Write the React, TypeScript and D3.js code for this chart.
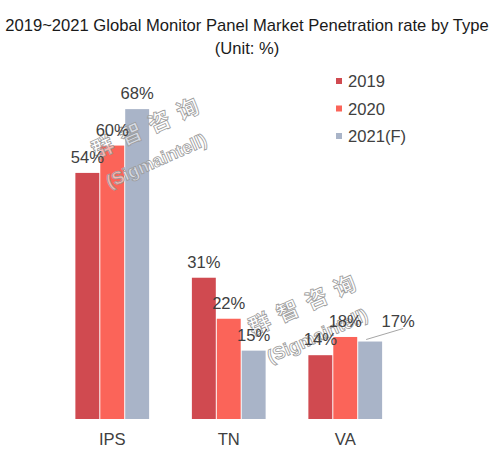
import React from "react";
import * as d3 from "d3";

const categories = ["IPS", "TN", "VA"];
const seriesNames = ["2019", "2020", "2021(F)"];
const values2019 = [54, 31, 14];
const values2020 = [60, 22, 18];
const values2021 = [68, 15, 17];
const colors = ["#d04a50", "#fb6459", "#a9b4c8"];
const titleLines = ["2019~2021 Global Monitor Panel Market Penetration rate by Type", "(Unit: %)"];

const W = 492;
const H = 458;
const FONT = "'Liberation Sans', Arial, sans-serif";
const FS = 16.6;

export default function App() {
  const series = [values2019, values2020, values2021];
  const x0 = d3.scaleBand().domain(categories).range([54, 403.5]).paddingInner(0.35).paddingOuter(0.175);
  const x1 = d3.scaleBand().domain(seriesNames).range([0, x0.bandwidth()]).padding(0.04);
  const y = d3.scaleLinear().domain([0, 70]).range([419, 100]);

  return (
    <svg width={W} height={H} style={{ position: "absolute", left: 0, top: 0, background: "#fff" }} fontFamily={FONT}>
      <rect width={W} height={H} fill="#fff" />
      <text x={247} y={31} textAnchor="middle" fontSize={FS} fill="#1a1a1a">{titleLines[0]}</text>
      <text x={247} y={54} textAnchor="middle" fontSize={FS} fill="#1a1a1a">{titleLines[1]}</text>

      {categories.map((c, ci) => (
        <g key={c}>
          {seriesNames.map((s, si) => {
            const v = series[si][ci];
            const bx = (x0(c) as number) + (x1(s) as number);
            const bw = x1.bandwidth();
            return (
              <rect key={s} x={bx} y={y(v)} width={bw} height={y(0) - y(v)} fill={colors[si]} />
            );
          })}
          <text x={(x0(c) as number) + x0.bandwidth() / 2} y={445} textAnchor="middle" fontSize={FS} fill="#404040">{c}</text>
        </g>
      ))}

      {[
        [150, 128, 157, 162],
        [307, 305, 318, 337],
      ].map(([ax, ay, bx, by], i) => (
        <g key={"wm" + i} fill="#ffffff" fillOpacity={0.55} stroke="#9a9a9a" strokeWidth={0.8} fontWeight="bold">
          <text x={ax} y={ay} transform={`rotate(-24 ${ax} ${ay})`} textAnchor="middle" dominantBaseline="middle" fontSize={22} fontFamily="'Noto Sans CJK SC', sans-serif" letterSpacing={9}>群智咨询</text>
          <text x={bx} y={by} transform={`rotate(-24 ${bx} ${by})`} textAnchor="middle" dominantBaseline="middle" fontSize={18} fontFamily={FONT}>(Sigmaintell)</text>
        </g>
      ))}

      {categories.map((c, ci) => (
        <g key={c + "-lbl"}>
          {seriesNames.map((s, si) => {
            const v = series[si][ci];
            const cx = (x0(c) as number) + (x1(s) as number) + x1.bandwidth() / 2;
            const offset = ci === 2 && si === 2;
            if (offset) {
              return (
                <g key={s}>
                  <line x1={cx - 4} y1={y(v) - 2} x2={cx + 33} y2={y(v) - 13} stroke="#a6a6a6" strokeWidth={1} />
                  <text x={cx + 28} y={y(v) - 15} textAnchor="middle" fontSize={FS} fill="#404040">{v}%</text>
                </g>
              );
            }
            return (
              <text key={s} x={cx} y={y(v) - 10} textAnchor="middle" fontSize={FS} fill="#404040">{v}%</text>
            );
          })}
        </g>
      ))}

      {seriesNames.map((s, i) => (
        <g key={s} transform={`translate(336, ${78 + i * 27.5})`}>
          <rect x={0} y={0} width={6} height={6} fill={colors[i]} />
          <text x={12} y={9} fontSize={FS} fill="#404040">{s}</text>
        </g>
      ))}
    </svg>
  );
}
